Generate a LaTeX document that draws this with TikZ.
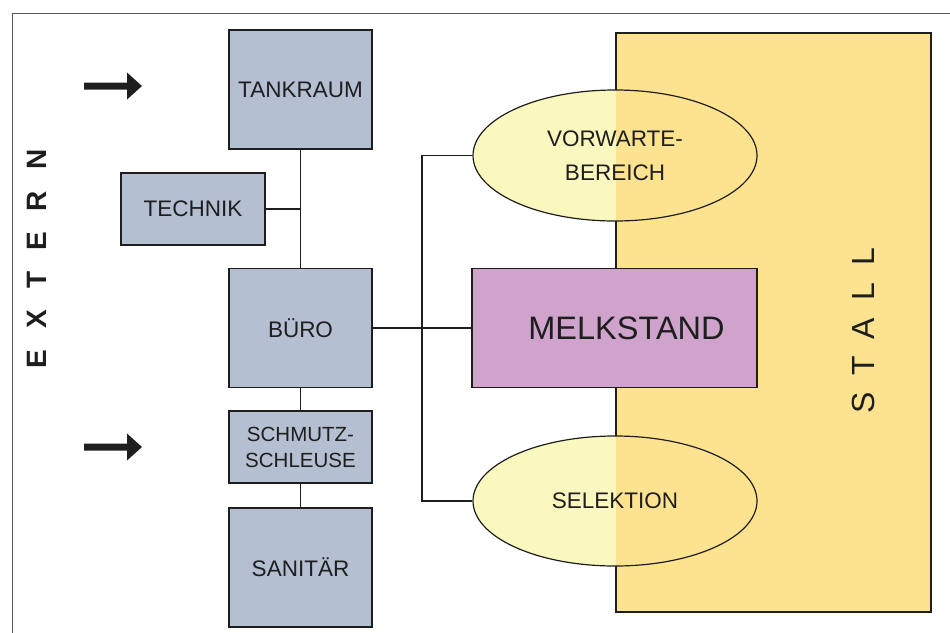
\documentclass[tikz,border=0pt]{standalone}
\usepackage{fontspec}
\setmainfont{Liberation Sans}
\usetikzlibrary{shapes.geometric}
\definecolor{boxblue}{HTML}{B4C0D2}
\definecolor{melkc}{HTML}{CFA3CC}
\definecolor{stallc}{HTML}{FDE28F}
\definecolor{elly}{HTML}{FAF8BE}
\definecolor{ink}{HTML}{1E1E1E}
\definecolor{framec}{HTML}{5A5A5A}
\begin{document}
\begin{tikzpicture}[x=1pt,y=-1pt,
  room/.style={draw=ink, line width=1.5pt, fill=boxblue, rectangle, inner sep=0pt,
    font=\fontsize{22.5}{27}\selectfont, text=ink, align=center},
  area/.style={draw=ink, line width=1.2pt, ellipse, inner sep=0pt,
    minimum width=284pt, minimum height=131pt, font=\fontsize{22.5}{34}\selectfont,
    text=ink, align=center},
  link/.style={draw=ink, line width=1.3pt}]
\useasboundingbox (0,0) rectangle (950,632);
\draw[framec, line width=1pt] (12,640) -- (12,13) -- (960,13);

% stall
\node[draw=ink, line width=1.5pt, fill=stallc, rectangle, inner sep=0pt,
  minimum width=315pt, minimum height=579pt] (stall) at (773.5,322.5) {};
\node[rotate=90, font=\fontsize{32}{32}\selectfont, text=ink] (stalllbl) at (863,331)
  {S\hspace{17pt}T\hspace{17pt}A\hspace{17pt}L\hspace{17pt}L};

% extern
\node[rotate=90, font=\bfseries\fontsize{28}{28}\selectfont, text=ink] (externlbl) at (37,259)
  {E\hspace{21pt}X\hspace{21pt}T\hspace{21pt}E\hspace{21pt}R\hspace{21pt}N};

% ellipses fill
\fill[elly] (615,155.5) ellipse [x radius=142, y radius=65.5];
\fill[elly] (615,501) ellipse [x radius=142, y radius=65];
\begin{scope}
  \clip (616,33) rectangle (931,612);
  \fill[stallc] (615,155.5) ellipse [x radius=142, y radius=65.5];
  \fill[stallc] (615,501) ellipse [x radius=142, y radius=65];
\end{scope}
\node[area] (vorw) at (615,155.5) {VORWARTE-\\BEREICH};
\node[area, minimum height=130pt] (selek) at (615,501) {SELEKTION};

% rooms
\node[room, minimum width=143pt, minimum height=119pt] (tank) at (300.5,89.5) {TANKRAUM};
\node[room, minimum width=144pt, minimum height=72pt] (technik) at (193,209) {TECHNIK};
\node[room, minimum width=143pt, minimum height=119pt] (buero) at (300.5,328) {BÜRO};
\node[room, minimum width=143pt, minimum height=72pt, font=\fontsize{20.5}{26}\selectfont] (schmutz) at (300.5,447) {SCHMUTZ-\\SCHLEUSE};
\node[room, minimum width=143pt, minimum height=119pt] (sanitaer) at (300.5,567.5) {SANITÄR};
\node[room, fill=melkc, minimum width=285pt, minimum height=119pt, font=\fontsize{32.5}{36}\selectfont] (melk) at (614.5,328) {\hspace{24pt}MELKSTAND};

% connectors
\draw[link] (tank.south) -- (buero.north);
\draw[link] (technik.east) -- (technik.east -| tank.south);
\draw[link] (buero.south) -- (schmutz.north);
\draw[link] (schmutz.south) -- (sanitaer.north);
\draw[link] (buero.east) -- (melk.west);
\coordinate (bus) at (422,328);
\draw[link] (vorw.west) -- (vorw.west -| bus) -- (selek.west -| bus) -- (selek.west);

% arrows
\coordinate (arrA) at (84,86);
\coordinate (arrB) at (84,447);
\fill[ink] (arrA) ++(0,-3.5) -- ++(43,0) -- ++(0,-10) -- ++(15,13.5) -- ++(-15,13.5) -- ++(0,-10) -- ++(-43,0) -- cycle;
\fill[ink] (arrB) ++(0,-3.5) -- ++(43,0) -- ++(0,-10) -- ++(15,13.5) -- ++(-15,13.5) -- ++(0,-10) -- ++(-43,0) -- cycle;
\end{tikzpicture}
\end{document}
